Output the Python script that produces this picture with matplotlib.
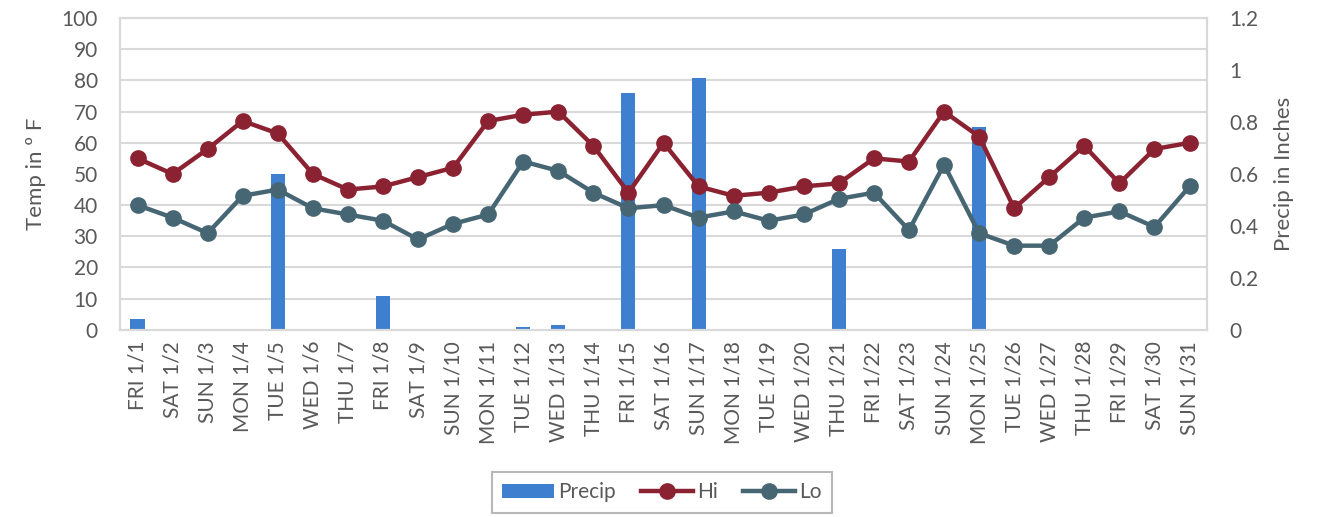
import numpy as np
import matplotlib
matplotlib.use('Agg')
import matplotlib.pyplot as plt

# January daily weather
days = ['FRI 1/1', 'SAT 1/2', 'SUN 1/3', 'MON 1/4', 'TUE 1/5', 'WED 1/6', 'THU 1/7',
        'FRI 1/8', 'SAT 1/9', 'SUN 1/10', 'MON 1/11', 'TUE 1/12', 'WED 1/13', 'THU 1/14',
        'FRI 1/15', 'SAT 1/16', 'SUN 1/17', 'MON 1/18', 'TUE 1/19', 'WED 1/20', 'THU 1/21',
        'FRI 1/22', 'SAT 1/23', 'SUN 1/24', 'MON 1/25', 'TUE 1/26', 'WED 1/27', 'THU 1/28',
        'FRI 1/29', 'SAT 1/30', 'SUN 1/31']
hi = [55, 50, 58, 67, 63, 50, 45, 46, 49, 52, 67, 69, 70, 59, 44, 60, 46, 43, 44, 46,
      47, 55, 54, 70, 62, 39, 49, 59, 47, 58, 60]
lo = [40, 36, 31, 43, 45, 39, 37, 35, 29, 34, 37, 54, 51, 44, 39, 40, 36, 38, 35, 37,
      42, 44, 32, 53, 31, 27, 27, 36, 38, 33, 46]
precip = [0.04, 0, 0, 0, 0.6, 0, 0, 0.13, 0, 0, 0, 0.01, 0.02, 0, 0.91, 0, 0.97, 0, 0,
          0, 0.31, 0, 0, 0, 0.78, 0, 0, 0, 0, 0, 0]

TXT = '#595959'
GRID = '#d9d9d9'
plt.rcParams['font.family'] = ['Lato', 'DejaVu Sans']

fig = plt.figure(figsize=(13.36, 5.17), dpi=100)
ax = fig.add_axes([0.0898, 0.362, 0.8137, 0.603])
ax2 = ax.twinx()

x = np.arange(len(days))
bars = ax2.bar(x, precip, width=0.4, color='#3f7fd0', zorder=2, label='Precip')
ax2.set_ylim(0, 1.2)
ax2.set_yticks([0, 0.2, 0.4, 0.6, 0.8, 1.0, 1.2])
ax2.set_yticklabels(['0', '0.2', '0.4', '0.6', '0.8', '1', '1.2'])

# temperature lines drawn above the bars
ax.set_zorder(ax2.get_zorder() + 1)
ax.patch.set_visible(False)
l1, = ax.plot(x, hi, color='#8b2232', lw=3.2, marker='o', ms=11, label='Hi', zorder=3)
l2, = ax.plot(x, lo, color='#476673', lw=3.2, marker='o', ms=11, label='Lo', zorder=3)
ax.set_ylim(0, 100)
ax.set_yticks(range(0, 101, 10))
ax.set_xlim(-0.5, len(days) - 0.5)
ax.set_xticks(x)
ax.set_xticklabels(days, rotation=90)

# excel style grid behind the bars: verticals between categories,
# horizontals at every 10 degrees of the left axis
ax2.set_xticks(np.arange(-0.5, len(days), 1), minor=True)
ax2.set_yticks(np.linspace(0, 1.2, 11), minor=True)
ax2.grid(which='minor', color=GRID, lw=1.5, zorder=0)
ax2.set_axisbelow(True)

for a in (ax, ax2):
    for s in a.spines.values():
        s.set_color(GRID)
        s.set_linewidth(1.5)
    a.tick_params(length=0, labelsize=15, colors=TXT, pad=16)
    a.tick_params(which='minor', length=0)
ax.tick_params(axis='x', pad=8)

ax.set_ylabel('Temp in º F', fontsize=16, color=TXT, labelpad=11)
ax2.set_ylabel('Precip in Inches', fontsize=16, color=TXT, labelpad=11)

leg = fig.legend(handles=[bars, l1, l2], loc='center', bbox_to_anchor=(0.4955, 0.048),
                 ncol=3, fontsize=15, frameon=True, fancybox=False, handlelength=2.5,
                 handletextpad=0.2, columnspacing=1.2, borderpad=0.5)
leg.get_frame().set_edgecolor('#a6a6a6')
leg.get_frame().set_linewidth(1.5)
for t in leg.get_texts():
    t.set_color(TXT)

fig.savefig('out.png', dpi=100)
